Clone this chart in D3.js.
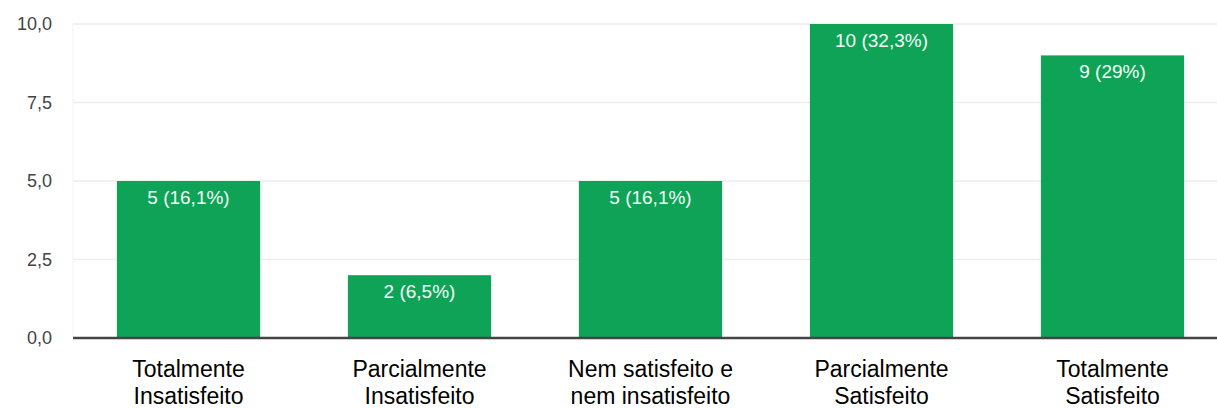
<!DOCTYPE html>
<html>
<head>
<meta charset="utf-8">
<script src="https://cdn.jsdelivr.net/npm/d3@7"></script>
<style>
  html, body { margin: 0; padding: 0; background: #fff; }
  svg { display: block; font-family: "Liberation Sans", Arial, sans-serif; }
</style>
</head>
<body>
<svg id="chart" width="1217" height="408"></svg>
<script>
// Satisfaction survey responses
const categories = [
  ["Totalmente", "Insatisfeito"],
  ["Parcialmente", "Insatisfeito"],
  ["Nem satisfeito e", "nem insatisfeito"],
  ["Parcialmente", "Satisfeito"],
  ["Totalmente", "Satisfeito"]
];
const counts = [5, 2, 5, 10, 9];
const percents = ["16,1%", "6,5%", "16,1%", "32,3%", "29%"];
const yTicks = [0, 2.5, 5, 7.5, 10];

const W = 1217, H = 408;
const margin = { top: 24, right: -11, bottom: 70, left: 73 };
const svg = d3.select("#chart");

const x = d3.scaleBand()
  .domain(d3.range(counts.length))
  .range([margin.left, W - margin.right])
  .paddingInner(0.38)
  .paddingOuter(0.19);

const y = d3.scaleLinear()
  .domain([0, 10])
  .range([H - margin.bottom, margin.top]);

const fmt = v => d3.format(".1f")(v).replace(".", ",");

// horizontal gridlines
svg.append("g")
  .selectAll("line")
  .data(yTicks.filter(t => t > 0))
  .join("line")
  .attr("x1", margin.left)
  .attr("x2", W)
  .attr("y1", d => y(d))
  .attr("y2", d => y(d))
  .attr("stroke", "#ededed")
  .attr("stroke-width", 1.5);

// faint left edge of the plot area
svg.append("line")
  .attr("x1", margin.left).attr("x2", margin.left)
  .attr("y1", y(10)).attr("y2", y(0))
  .attr("stroke", "#f2f2f2");

// y axis tick labels
const yAxis = d3.axisLeft(y).tickValues(yTicks).tickFormat(fmt).tickSize(0).tickPadding(21);
const gy = svg.append("g")
  .attr("transform", `translate(${margin.left},0)`)
  .call(yAxis);
gy.select(".domain").remove();
gy.selectAll("text")
  .attr("fill", "#444")
  .attr("font-size", 18)
  .attr("font-family", "Liberation Sans, Arial, sans-serif");

// bars
svg.append("g")
  .selectAll("rect")
  .data(counts)
  .join("rect")
  .attr("x", (d, i) => x(i))
  .attr("width", x.bandwidth())
  .attr("y", d => y(d))
  .attr("height", d => y(0) - y(d))
  .attr("fill", "#0ea357");

// value labels inside bars
svg.append("g")
  .selectAll("text")
  .data(counts)
  .join("text")
  .attr("x", (d, i) => x(i) + x.bandwidth() / 2)
  .attr("y", d => y(d) + 23)
  .attr("text-anchor", "middle")
  .attr("fill", "#f4fff8")
  .attr("font-size", 19)
  .text((d, i) => `${d} (${percents[i]})`);

// baseline
svg.append("line")
  .attr("x1", margin.left)
  .attr("x2", W)
  .attr("y1", y(0))
  .attr("y2", y(0))
  .attr("stroke", "#444")
  .attr("stroke-width", 2.5);

// category labels
const xAxis = d3.axisBottom(x).tickSize(0).tickFormat(() => "");
const gx = svg.append("g")
  .attr("transform", `translate(0,${y(0)})`)
  .call(xAxis);
gx.select(".domain").remove();
gx.selectAll(".tick").each(function(i) {
  const t = d3.select(this).append("text")
    .attr("text-anchor", "middle")
    .attr("fill", "#000")
    .attr("font-size", 23);
  categories[i].forEach((line, k) => {
    t.append("tspan").attr("x", 0).attr("y", 39 + k * 27).text(line);
  });
});
</script>
</body>
</html>
